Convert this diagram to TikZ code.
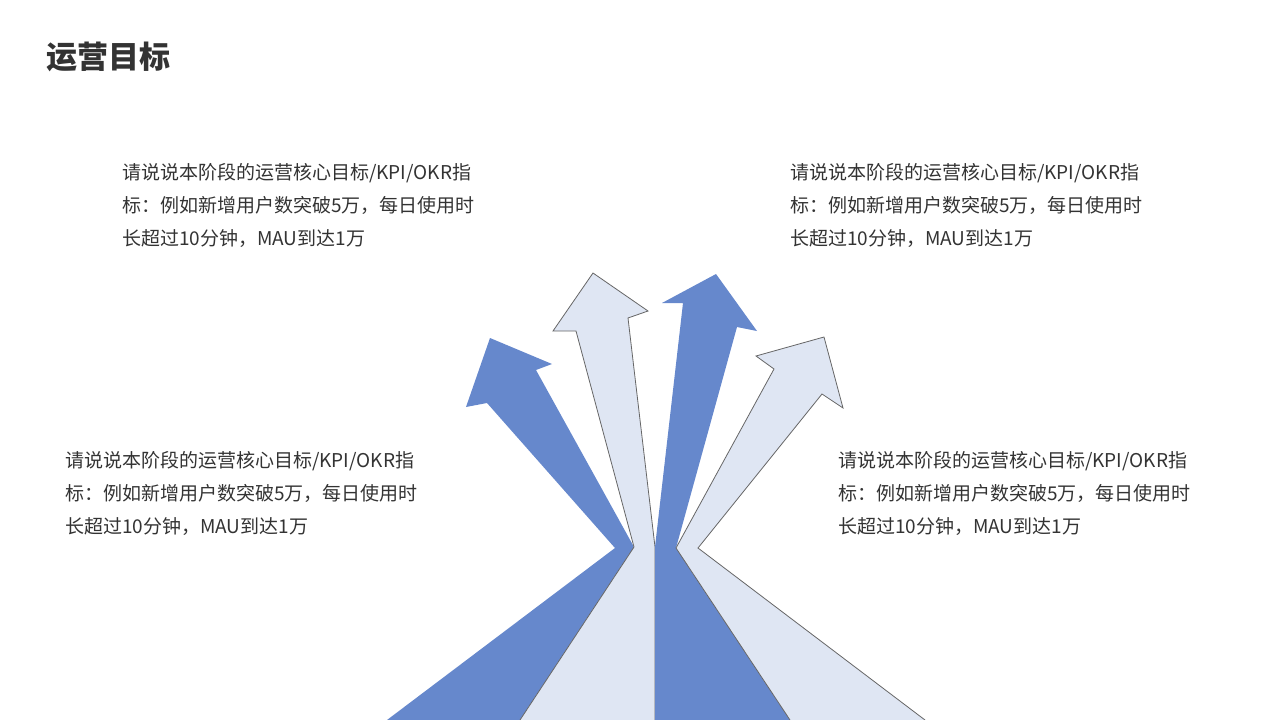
\documentclass[tikz,border=0pt]{standalone}
\usepackage{fontspec}
\setmainfont{Noto Sans CJK SC}
\usetikzlibrary{positioning}
\definecolor{arrowdark}{HTML}{6688CC}
\definecolor{arrowlight}{HTML}{DFE6F3}
\definecolor{textgray}{HTML}{333333}
\begin{document}
\begin{tikzpicture}[
                x = 1pt, y = -1pt, % pixel grid
                darkarrow/.style = {fill = arrowdark, draw = none},
                lightarrow/.style = {fill = arrowlight, draw = gray!80!black, line width = 0.8pt},
                goal/.style = {anchor = west, align = left, text = textgray,
                font = \fontsize{19}{33}\selectfont, inner sep = 0pt}
            ]

            \useasboundingbox (0,0) rectangle (1280,720);

            \node (title) [anchor = west, text = textgray, inner sep = 0pt,
            font = \fontsize{31}{31}\selectfont\bfseries] at (46,57) {运营目标};

            % arrows
            \fill[darkarrow] (387,720) -- (615,548) -- (487,403) -- (466,407)
            -- (490,338) -- (552,364) -- (536,370) -- (634,547) -- (520,720) -- cycle;
            \filldraw[lightarrow] (520,720) -- (634,547) -- (576,331) -- (553,331)
            -- (593,273) -- (648,311) -- (628,318) -- (655,547) -- (655,720);
            \fill[darkarrow] (655,720) -- (655,547) -- (683,303) -- (662,303)
            -- (716,274) -- (757,331) -- (737,327) -- (676,548) -- (790,720) -- cycle;
            \filldraw[lightarrow] (790,720) -- (676,548) -- (774,369) -- (756,356)
            -- (824,337) -- (843,408) -- (822,394) -- (698,548) -- (925,720);

            % goal texts
            \node (goal1) [goal] at (122,205) {请说说本阶段的运营核心目标/KPI/OKR指\\
            标：例如新增用户数突破5万，每日使用时\\长超过10分钟，MAU到达1万};
            \node (goal2) [goal] at (790,205) {请说说本阶段的运营核心目标/KPI/OKR指\\
            标：例如新增用户数突破5万，每日使用时\\长超过10分钟，MAU到达1万};
            \node (goal3) [goal] at (65,493) {请说说本阶段的运营核心目标/KPI/OKR指\\
            标：例如新增用户数突破5万，每日使用时\\长超过10分钟，MAU到达1万};
            \node (goal4) [goal] at (838,493) {请说说本阶段的运营核心目标/KPI/OKR指\\
            标：例如新增用户数突破5万，每日使用时\\长超过10分钟，MAU到达1万};

        \end{tikzpicture}
\end{document}
